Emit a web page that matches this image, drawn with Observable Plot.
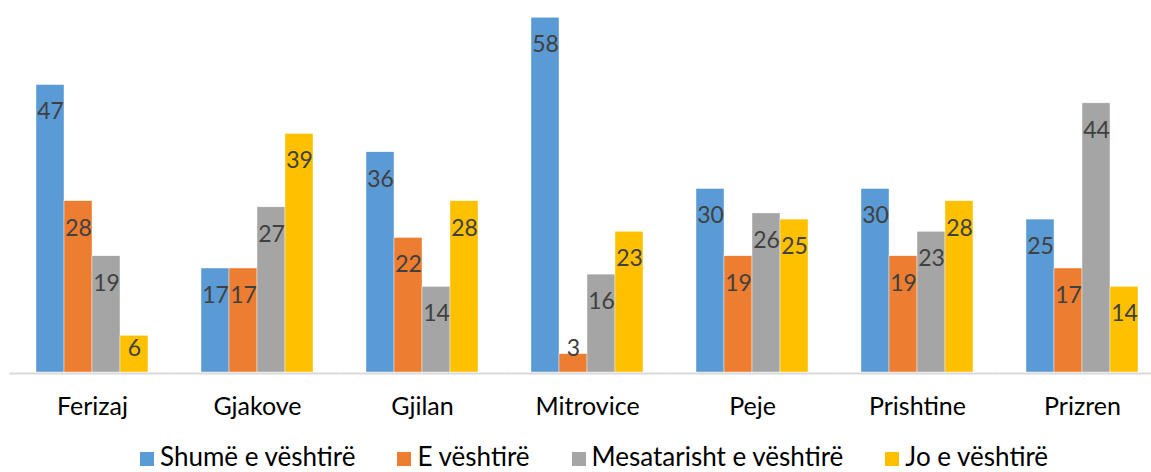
<!DOCTYPE html>
<html>
<head>
<meta charset="utf-8">
<script src="https://cdn.jsdelivr.net/npm/d3@7"></script>
<script src="https://cdn.jsdelivr.net/npm/@observablehq/plot@0.6"></script>
<style>
  html, body { margin: 0; padding: 0; background: #fff; }
  body { width: 1151px; height: 472px; overflow: hidden; font-family: Lato, sans-serif; }
  #legend { margin-top: 4px; margin-left: 140px; display: flex; gap: 42px; font-size: 26px; line-height: 24px; color: #000; white-space: nowrap; }
  #legend .item { display: inline-flex; align-items: baseline; }
  #legend .sw { display: inline-block; width: 14px; height: 14px; margin-right: 6px; }
</style>
</head>
<body>
<div id="chart"></div>
<div id="legend"></div>
<script>
const cities = ["Ferizaj", "Gjakove", "Gjilan", "Mitrovice", "Peje", "Prishtine", "Prizren"];
const series = ["Shumë e vështirë", "E vështirë", "Mesatarisht e vështirë", "Jo e vështirë"];
const colors = ["#5b9bd5", "#ed7d31", "#a5a5a5", "#ffc000"];
const shumeVeshtire = [47, 17, 36, 58, 30, 30, 25];
const eVeshtire = [28, 17, 22, 3, 19, 19, 17];
const mesatarisht = [19, 27, 14, 16, 26, 23, 44];
const joVeshtire = [6, 39, 28, 23, 25, 28, 14];
const values = [shumeVeshtire, eVeshtire, mesatarisht, joVeshtire];

const data = cities.flatMap((c, i) => series.map((s, j) => ({city: c, series: s, value: values[j][i]})));

const chart = Plot.plot({
  width: 1151,
  height: 440,
  marginLeft: 9.5,
  marginRight: -13.5,
  marginTop: 5,
  marginBottom: 68,
  style: {fontFamily: "Lato, sans-serif", background: "white"},
  fx: {domain: cities, padding: 0, round: false, label: null, axis: null},
  x: {domain: series, paddingInner: 0, paddingOuter: 0.947, round: false, axis: null},
  y: {domain: [0, 60], axis: null},
  color: {domain: series, range: colors},
  marks: [
    Plot.barY(data, {fx: "city", x: "series", y: "value", fill: "series", stroke: "white", strokeWidth: 0.4}),
    Plot.ruleY([0], {stroke: "#d9d9d9", strokeWidth: 2, dy: 1}),
    Plot.text(data, {fx: "city", x: "series", y: d => Math.max(d.value - 4.4, 3.9), text: d => String(d.value), fill: "#404040", fontSize: 23}),
    Plot.axisFx({anchor: "bottom", tickSize: 0, tickPadding: 25, fontSize: 25, label: null, fill: "#000"})
  ]
});
document.getElementById("chart").appendChild(chart);

const legend = document.getElementById("legend");
series.forEach((s, i) => {
  const item = document.createElement("span");
  item.className = "item";
  const sw = document.createElement("span");
  sw.className = "sw";
  sw.style.background = colors[i];
  item.appendChild(sw);
  item.appendChild(document.createTextNode(s));
  legend.appendChild(item);
});
</script>
</body>
</html>
